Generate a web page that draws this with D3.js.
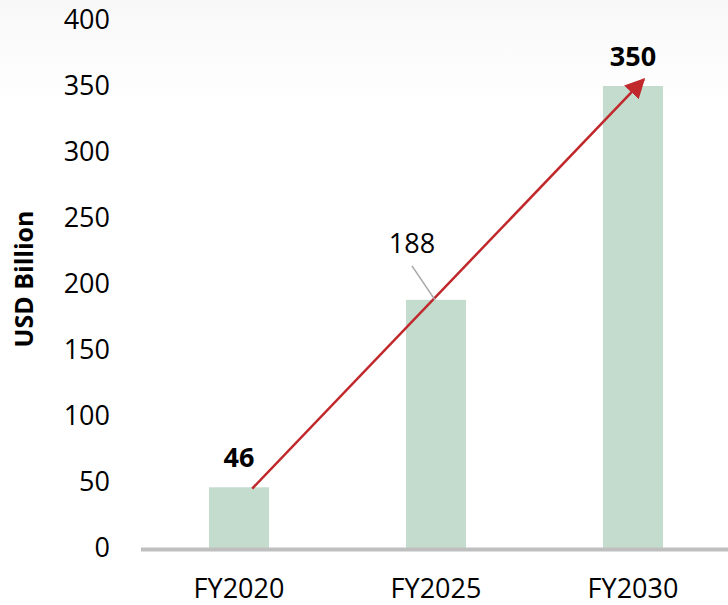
<!DOCTYPE html>
<html>
<head>
<meta charset="utf-8">
<script src="https://cdn.jsdelivr.net/npm/d3@7"></script>
<style>
  body { margin: 0; background: #fff; }
  svg { display: block; font-family: "Open Sans", sans-serif; }
</style>
</head>
<body>
<svg id="chart" width="728" height="605"></svg>
<script>
// Données du graphique
var years = ['FY2020', 'FY2025', 'FY2030']
var values = [46, 188, 350]
var boldLabel = [true, false, true]
var yTicks = [0, 50, 100, 150, 200, 250, 300, 350, 400]

// Dimensions
var width = 728
var height = 605
var plotTop = 20
var plotBottom = 548

var svg = d3.select('#chart')

// fond légèrement grisé en haut
var defs = svg.append('defs')
var grad = defs.append('linearGradient')
  .attr('id', 'bg').attr('x1', 0).attr('y1', 0).attr('x2', 0).attr('y2', 1)
grad.append('stop').attr('offset', '0%').attr('stop-color', '#f8f8f8')
grad.append('stop').attr('offset', '100%').attr('stop-color', '#ffffff')
svg.append('rect').attr('width', width).attr('height', 110).attr('fill', 'url(#bg)')

var xScale = d3.scaleBand()
  .domain(years)
  .range([140.5, 731.5])
  .paddingInner(0.695)
  .paddingOuter(0.3475)

var yScale = d3.scaleLinear()
  .domain([0, 400])
  .range([plotBottom, plotTop])

// Barres
svg.selectAll('.bar')
  .data(values)
  .enter()
  .append('rect')
  .attr('class', 'bar')
  .attr('x', function (d, i) { return xScale(years[i]) })
  .attr('y', function (d) { return yScale(d) })
  .attr('width', xScale.bandwidth())
  .attr('height', function (d) { return yScale(0) - yScale(d) })
  .attr('fill', '#c4dccd')

// Axe des abscisses
var xAxis = svg.append('g')
  .attr('transform', 'translate(0,' + (plotBottom + 1) + ')')
  .call(d3.axisBottom(xScale).tickSize(0).tickPadding(30))
xAxis.select('.domain').attr('stroke', '#bfbfbf').attr('stroke-width', 4)
xAxis.selectAll('text')
  .attr('font-family', '"Open Sans", sans-serif')
  .attr('font-size', 27)
  .attr('fill', '#000')

// Axe des ordonnées
var yAxis = svg.append('g')
  .attr('transform', 'translate(110,0)')
  .call(d3.axisLeft(yScale).tickValues(yTicks).tickSize(0).tickPadding(0))
yAxis.select('.domain').remove()
yAxis.selectAll('text')
  .attr('font-family', '"Open Sans", sans-serif')
  .attr('font-size', 27)
  .attr('fill', '#000')

// Titre de l'axe
svg.append('text')
  .attr('transform', 'translate(33,279) rotate(-90)')
  .attr('text-anchor', 'middle')
  .attr('font-size', 25)
  .attr('font-weight', 'bold')
  .text('USD Billion')

// Flèche de croissance
defs.append('marker')
  .attr('id', 'arrow')
  .attr('viewBox', '0 0 10 10')
  .attr('refX', 9).attr('refY', 5)
  .attr('markerWidth', 20).attr('markerHeight', 20)
  .attr('markerUnits', 'userSpaceOnUse')
  .attr('orient', 'auto')
  .append('path')
  .attr('d', 'M0,0 L10,5 L0,10 z')
  .attr('fill', '#c0282b')

svg.append('line')
  .attr('x1', xScale(years[0]) + xScale.bandwidth() * 0.72)
  .attr('y1', yScale(values[0] - 1))
  .attr('x2', xScale(years[2]) + xScale.bandwidth() * 0.68)
  .attr('y2', yScale(355))
  .attr('stroke', '#c0282b')
  .attr('stroke-width', 2.5)
  .attr('marker-end', 'url(#arrow)')

// Ligne de rappel du libellé 188
svg.append('line')
  .attr('x1', xScale(years[1]) + 6)
  .attr('y1', yScale(values[1]) - 34)
  .attr('x2', xScale(years[1]) + 29)
  .attr('y2', yScale(values[1]))
  .attr('stroke', '#a6a6a6')
  .attr('stroke-width', 1.5)

// Libellés de valeurs
var labelPos = [
  { dx: 0, dy: -20 },
  { dx: -24, dy: -47 },
  { dx: 0, dy: -20 }
]
svg.selectAll('.value-label')
  .data(values)
  .enter()
  .append('text')
  .attr('class', 'value-label')
  .attr('x', function (d, i) { return xScale(years[i]) + xScale.bandwidth() / 2 + labelPos[i].dx })
  .attr('y', function (d, i) { return yScale(d) + labelPos[i].dy })
  .attr('text-anchor', 'middle')
  .attr('font-size', 27)
  .attr('font-weight', function (d, i) { return boldLabel[i] ? 'bold' : 'normal' })
  .text(function (d) { return d })
</script>
</body>
</html>
